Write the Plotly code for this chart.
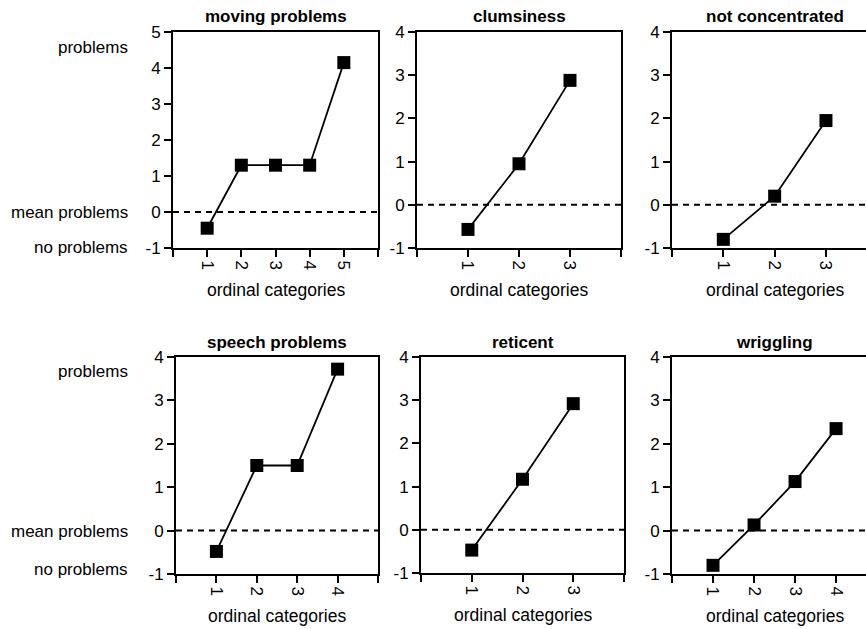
import plotly.graph_objects as go

# ---- data ----
panel_titles = ["moving problems", "clumsiness", "not concentrated",
                "speech problems", "reticent", "wriggling"]
moving_problems = [-0.45, 1.3, 1.3, 1.3, 4.15]
clumsiness = [-0.57, 0.95, 2.88]
not_concentrated = [-0.80, 0.20, 1.95]
speech_problems = [-0.48, 1.50, 1.50, 3.72]
reticent = [-0.47, 1.17, 2.92]
wriggling = [-0.80, 0.13, 1.13, 2.35]
series = [moving_problems, clumsiness, not_concentrated,
          speech_problems, reticent, wriggling]
y_ranges = [[-1, 5], [-1, 4], [-1, 4], [-1, 4], [-1, 4], [-1, 4]]
x_axis_title = "ordinal categories"
side_labels = ["problems", "mean problems", "no problems"]

W, H = 866, 629
FONT = "Liberation Sans, Arial, sans-serif"

# panel boxes in pixels: (left, right, top, bottom), plus visible x-range end
boxes = [(173, 378, 32, 248), (417, 621, 32, 248), (672, 866, 32, 248),
         (176, 378, 357, 574), (421, 624, 357, 573), (672, 866, 357, 574)]
x_end = [6, 4, 3.78, 5, 4, 4.73]
right_border = [True, True, False, True, True, False]

fig = go.Figure()
layout = dict(width=W, height=H,
              margin=dict(l=0, r=0, t=0, b=0, pad=0, autoexpand=False),
              paper_bgcolor="white", plot_bgcolor="white",
              showlegend=False, font=dict(family=FONT, color="black"))
shapes, annotations = [], []

for i, (vals, title) in enumerate(zip(series, panel_titles)):
    k = i + 1
    sx = "" if k == 1 else str(k)
    n = len(vals)
    cats = list(range(1, n + 1))
    l, r, t, b = boxes[i]
    lo, hi = y_ranges[i]
    yt = list(range(lo, hi + 1))
    fig.add_trace(go.Scatter(
        x=cats, y=vals, mode="lines+markers",
        line=dict(color="black", width=1.8),
        marker=dict(symbol="square", size=13, color="black", line=dict(width=0)),
        xaxis="x" + sx, yaxis="y" + sx, cliponaxis=False))
    layout["xaxis" + sx] = dict(
        domain=[l / W, r / W], range=[0, x_end[i]], anchor="y" + sx,
        automargin=False,
        showgrid=False, zeroline=False, showline=True, linewidth=2,
        linecolor="black", mirror=True,
        tickmode="array", tickvals=list(range(0, n + 2)),
        ticktext=[""] + [str(c) for c in cats] + [""],
        ticks="outside", ticklen=7, tickwidth=1.5, tickcolor="black",
        tickangle=90, tickfont=dict(size=17, family=FONT, color="black"))
    layout["yaxis" + sx] = dict(
        domain=[1 - b / H, 1 - t / H], range=[lo, hi], anchor="x" + sx,
        automargin=False,
        showgrid=False, zeroline=False, showline=True, linewidth=2,
        linecolor="black", mirror=right_border[i],
        tickmode="array", tickvals=yt, ticktext=[str(v) for v in yt],
        ticks="outside", ticklen=7, tickwidth=1.5, tickcolor="black",
        tickfont=dict(size=17, family=FONT, color="black"))
    # dashed mean line
    shapes.append(dict(type="line", xref="x" + sx + " domain", x0=0, x1=1,
                       yref="y" + sx, y0=0, y1=0, layer="below",
                       line=dict(color="black", width=2, dash="6px,5px")))
    # panel title
    annotations.append(dict(text="<b>" + title + "</b>", xref="x" + sx,
                            x=(n + 1) / 2, yref="y" + sx + " domain", y=1,
                            yshift=15, showarrow=False, xanchor="center",
                            yanchor="middle",
                            font=dict(size=17, family=FONT, color="black")))
    # x axis title
    annotations.append(dict(text=x_axis_title, xref="x" + sx, x=(n + 1) / 2,
                            yref="y" + sx + " domain", y=0, yshift=-42,
                            showarrow=False, xanchor="center", yanchor="middle",
                            font=dict(size=17.5, family=FONT, color="black")))

# left side labels
label_rows = [[48, 212, 248], [371, 531, 569]]
for row in label_rows:
    for txt, py in zip(side_labels, row):
        annotations.append(dict(text=txt, xref="paper", x=130 / W,
                                yref="paper", y=1 - py / H, showarrow=False,
                                xanchor="right", yanchor="middle",
                                font=dict(size=17, family=FONT, color="black")))

layout["shapes"] = shapes
layout["annotations"] = annotations
fig.update_layout(**layout)
fig.write_html("out.html")
